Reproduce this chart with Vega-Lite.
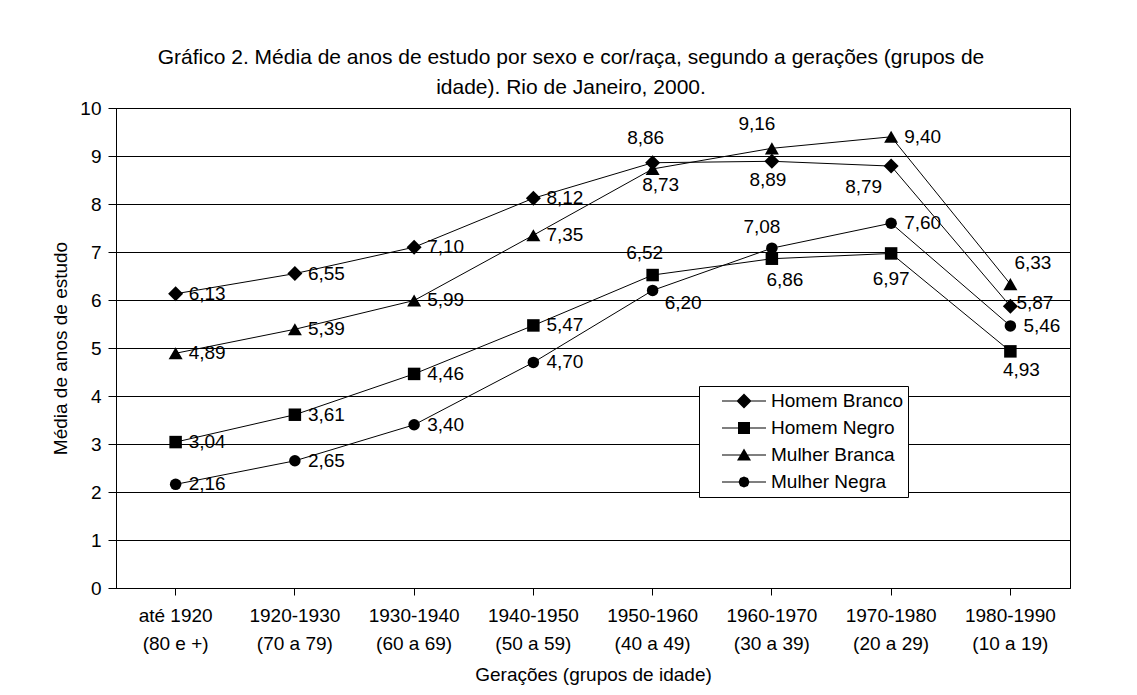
{
  "$schema": "https://vega.github.io/schema/vega-lite/v6.json",
  "width": 954,
  "height": 480,
  "padding": {"left": 51, "top": 47, "right": 5, "bottom": 5},
  "title": {
    "text": ["Gráfico 2. Média de anos de estudo por sexo e cor/raça, segundo a gerações (grupos de", "idade). Rio de Janeiro, 2000."],
    "fontSize": 21,
    "font": "Liberation Sans",
    "fontWeight": "normal",
    "color": "black",
    "lineHeight": 30,
    "offset": 1,
    "frame": "group",
    "dx": -22,
    "anchor": "middle"
  },
  "data": {
    "values": [
      {"serie": "Homem Branco", "geracao": "até 1920 (80 e +)", "valor": 6.13},
      {"serie": "Homem Branco", "geracao": "1920-1930 (70 a 79)", "valor": 6.55},
      {"serie": "Homem Branco", "geracao": "1930-1940 (60 a 69)", "valor": 7.10},
      {"serie": "Homem Branco", "geracao": "1940-1950 (50 a 59)", "valor": 8.12},
      {"serie": "Homem Branco", "geracao": "1950-1960 (40 a 49)", "valor": 8.86},
      {"serie": "Homem Branco", "geracao": "1960-1970 (30 a 39)", "valor": 8.89},
      {"serie": "Homem Branco", "geracao": "1970-1980 (20 a 29)", "valor": 8.79},
      {"serie": "Homem Branco", "geracao": "1980-1990 (10 a 19)", "valor": 5.87},
      {"serie": "Homem Negro", "geracao": "até 1920 (80 e +)", "valor": 3.04},
      {"serie": "Homem Negro", "geracao": "1920-1930 (70 a 79)", "valor": 3.61},
      {"serie": "Homem Negro", "geracao": "1930-1940 (60 a 69)", "valor": 4.46},
      {"serie": "Homem Negro", "geracao": "1940-1950 (50 a 59)", "valor": 5.47},
      {"serie": "Homem Negro", "geracao": "1950-1960 (40 a 49)", "valor": 6.52},
      {"serie": "Homem Negro", "geracao": "1960-1970 (30 a 39)", "valor": 6.86},
      {"serie": "Homem Negro", "geracao": "1970-1980 (20 a 29)", "valor": 6.97},
      {"serie": "Homem Negro", "geracao": "1980-1990 (10 a 19)", "valor": 4.93},
      {"serie": "Mulher Branca", "geracao": "até 1920 (80 e +)", "valor": 4.89},
      {"serie": "Mulher Branca", "geracao": "1920-1930 (70 a 79)", "valor": 5.39},
      {"serie": "Mulher Branca", "geracao": "1930-1940 (60 a 69)", "valor": 5.99},
      {"serie": "Mulher Branca", "geracao": "1940-1950 (50 a 59)", "valor": 7.35},
      {"serie": "Mulher Branca", "geracao": "1950-1960 (40 a 49)", "valor": 8.73},
      {"serie": "Mulher Branca", "geracao": "1960-1970 (30 a 39)", "valor": 9.16},
      {"serie": "Mulher Branca", "geracao": "1970-1980 (20 a 29)", "valor": 9.40},
      {"serie": "Mulher Branca", "geracao": "1980-1990 (10 a 19)", "valor": 6.33},
      {"serie": "Mulher Negra", "geracao": "até 1920 (80 e +)", "valor": 2.16},
      {"serie": "Mulher Negra", "geracao": "1920-1930 (70 a 79)", "valor": 2.65},
      {"serie": "Mulher Negra", "geracao": "1930-1940 (60 a 69)", "valor": 3.40},
      {"serie": "Mulher Negra", "geracao": "1940-1950 (50 a 59)", "valor": 4.70},
      {"serie": "Mulher Negra", "geracao": "1950-1960 (40 a 49)", "valor": 6.20},
      {"serie": "Mulher Negra", "geracao": "1960-1970 (30 a 39)", "valor": 7.08},
      {"serie": "Mulher Negra", "geracao": "1970-1980 (20 a 29)", "valor": 7.60},
      {"serie": "Mulher Negra", "geracao": "1980-1990 (10 a 19)", "valor": 5.46}
    ]
  },
  "encoding": {
    "x": {
      "field": "geracao",
      "type": "ordinal",
      "sort": null,
      "scale": {"type": "band", "paddingInner": 0, "paddingOuter": 0},
      "axis": {
        "title": "Gerações (grupos de idade)",
        "labelAngle": 0,
        "labelExpr": "[slice(datum.value, 0, indexof(datum.value, ' (')), slice(datum.value, indexof(datum.value, ' (') + 1)]",
        "labelLineHeight": 28,
        "labelPadding": 11,
        "tickSize": 7,
        "titlePadding": 12
      }
    },
    "y": {
      "field": "valor",
      "type": "quantitative",
      "scale": {"domain": [0, 10]},
      "axis": {
        "title": "Média de anos de estudo",
        "values": [0, 1, 2, 3, 4, 5, 6, 7, 8, 9, 10],
        "grid": true,
        "tickSize": 8,
        "labelPadding": 7,
        "titlePadding": 9
      }
    }
  },
  "layer": [
    {
      "mark": {"type": "line", "color": "black", "strokeWidth": 1},
      "encoding": {"detail": {"field": "serie", "type": "nominal"}}
    },
    {
      "transform": [{"filter": "datum.serie == 'Homem Branco'"}],
      "mark": {"type": "point", "shape": "diamond", "filled": true, "color": "black", "opacity": 1, "size": 225}
    },
    {
      "transform": [{"filter": "datum.serie == 'Homem Negro'"}],
      "mark": {"type": "point", "shape": "square", "filled": true, "color": "black", "opacity": 1, "size": 156}
    },
    {
      "transform": [{"filter": "datum.serie == 'Mulher Branca'"}],
      "mark": {"type": "point", "shape": "triangle-up", "filled": true, "color": "black", "opacity": 1, "size": 196}
    },
    {
      "transform": [{"filter": "datum.serie == 'Mulher Negra'"}],
      "mark": {"type": "point", "shape": "circle", "filled": true, "color": "black", "opacity": 1, "size": 132}
    },
    {
      "transform": [{"filter": "false"}],
      "mark": {"type": "point", "filled": true, "color": "black", "size": 400},
      "encoding": {
        "shape": {
          "field": "serie",
          "type": "nominal",
          "scale": {
            "domain": ["Homem Branco", "Homem Negro", "Mulher Branca", "Mulher Negra"],
            "range": [
              "M-2.2,-0.05H2.2V0.05H-2.2ZM0,-0.75L0.75,0L0,0.75L-0.75,0Z",
              "M-2.2,-0.05H2.2V0.05H-2.2ZM-0.6,-0.6H0.6V0.6H-0.6Z",
              "M-2.2,-0.05H2.2V0.05H-2.2ZM0,-0.65L0.7,0.55H-0.7Z",
              "M-2.2,-0.05H2.2V0.05H-2.2ZM0.55,0L0.39,0.39L0,0.55L-0.39,0.39L-0.55,0L-0.39,-0.39L0,-0.55L0.39,-0.39Z"
            ]
          },
          "legend": {
            "title": null,
            "orient": "none",
            "legendX": 583,
            "legendY": 278,
            "strokeColor": "black",
            "fillColor": "white",
            "padding": 5,
            "symbolOffset": 30,
            "symbolSize": 400,
            "symbolFillColor": "black",
            "symbolStrokeColor": "transparent",
            "symbolStrokeWidth": 0,
            "symbolOpacity": 1,
            "labelFontSize": 19,
            "labelFont": "Liberation Sans",
            "labelColor": "black",
            "labelOffset": 17,
            "rowPadding": 7,
            "labelExpr": "datum.label + '\u00a0\u00a0\u00a0\u00a0\u00a0\u00a0\u00a0\u00a0'"
          }
        }
      }
    },
    {
      "transform": [{"filter": "indexof(['Homem Branco|1950-1960','Homem Negro|1950-1960','Mulher Negra|1960-1970','Mulher Branca|1960-1970','Mulher Branca|1950-1960','Homem Branco|1960-1970','Homem Branco|1970-1980','Homem Negro|1960-1970','Homem Negro|1970-1980','Mulher Negra|1950-1960','Mulher Branca|1980-1990','Homem Branco|1980-1990','Homem Negro|1980-1990'], datum.serie + '|' + slice(datum.geracao, 0, 9)) < 0"}],
      "mark": {"type": "text", "align": "left", "baseline": "middle", "dx": 13, "fontSize": 19, "font": "Liberation Sans", "color": "black"},
      "encoding": {"text": {"field": "valor", "type": "quantitative", "format": ".2f"}}
    },
    {
      "transform": [{"filter": "datum.serie + '|' + slice(datum.geracao, 0, 9) == 'Homem Branco|1950-1960'"}],
      "mark": {"type": "text", "align": "center", "baseline": "middle", "dx": -7, "dy": -25, "fontSize": 19, "font": "Liberation Sans", "color": "black"},
      "encoding": {"text": {"field": "valor", "type": "quantitative", "format": ".2f"}}
    },
    {
      "transform": [{"filter": "datum.serie + '|' + slice(datum.geracao, 0, 9) == 'Homem Negro|1950-1960'"}],
      "mark": {"type": "text", "align": "center", "baseline": "middle", "dx": -8, "dy": -22, "fontSize": 19, "font": "Liberation Sans", "color": "black"},
      "encoding": {"text": {"field": "valor", "type": "quantitative", "format": ".2f"}}
    },
    {
      "transform": [{"filter": "datum.serie + '|' + slice(datum.geracao, 0, 9) == 'Mulher Negra|1960-1970'"}],
      "mark": {"type": "text", "align": "center", "baseline": "middle", "dx": -10, "dy": -21, "fontSize": 19, "font": "Liberation Sans", "color": "black"},
      "encoding": {"text": {"field": "valor", "type": "quantitative", "format": ".2f"}}
    },
    {
      "transform": [{"filter": "datum.serie + '|' + slice(datum.geracao, 0, 9) == 'Mulher Branca|1960-1970'"}],
      "mark": {"type": "text", "align": "center", "baseline": "middle", "dx": -15, "dy": -24, "fontSize": 19, "font": "Liberation Sans", "color": "black"},
      "encoding": {"text": {"field": "valor", "type": "quantitative", "format": ".2f"}}
    },
    {
      "transform": [{"filter": "datum.serie + '|' + slice(datum.geracao, 0, 9) == 'Mulher Branca|1950-1960'"}],
      "mark": {"type": "text", "align": "center", "baseline": "middle", "dx": 8, "dy": 16, "fontSize": 19, "font": "Liberation Sans", "color": "black"},
      "encoding": {"text": {"field": "valor", "type": "quantitative", "format": ".2f"}}
    },
    {
      "transform": [{"filter": "datum.serie + '|' + slice(datum.geracao, 0, 9) == 'Homem Branco|1960-1970'"}],
      "mark": {"type": "text", "align": "center", "baseline": "middle", "dx": -4, "dy": 19, "fontSize": 19, "font": "Liberation Sans", "color": "black"},
      "encoding": {"text": {"field": "valor", "type": "quantitative", "format": ".2f"}}
    },
    {
      "transform": [{"filter": "datum.serie + '|' + slice(datum.geracao, 0, 9) == 'Homem Branco|1970-1980'"}],
      "mark": {"type": "text", "align": "right", "baseline": "middle", "dx": -9, "dy": 21, "fontSize": 19, "font": "Liberation Sans", "color": "black"},
      "encoding": {"text": {"field": "valor", "type": "quantitative", "format": ".2f"}}
    },
    {
      "transform": [{"filter": "datum.serie + '|' + slice(datum.geracao, 0, 9) == 'Homem Negro|1960-1970'"}],
      "mark": {"type": "text", "align": "center", "baseline": "middle", "dx": 13, "dy": 21, "fontSize": 19, "font": "Liberation Sans", "color": "black"},
      "encoding": {"text": {"field": "valor", "type": "quantitative", "format": ".2f"}}
    },
    {
      "transform": [{"filter": "datum.serie + '|' + slice(datum.geracao, 0, 9) == 'Homem Negro|1970-1980'"}],
      "mark": {"type": "text", "align": "center", "baseline": "middle", "dx": 0, "dy": 26, "fontSize": 19, "font": "Liberation Sans", "color": "black"},
      "encoding": {"text": {"field": "valor", "type": "quantitative", "format": ".2f"}}
    },
    {
      "transform": [{"filter": "datum.serie + '|' + slice(datum.geracao, 0, 9) == 'Mulher Negra|1950-1960'"}],
      "mark": {"type": "text", "align": "left", "baseline": "middle", "dx": 12, "dy": 13, "fontSize": 19, "font": "Liberation Sans", "color": "black"},
      "encoding": {"text": {"field": "valor", "type": "quantitative", "format": ".2f"}}
    },
    {
      "transform": [{"filter": "datum.serie + '|' + slice(datum.geracao, 0, 9) == 'Mulher Branca|1980-1990'"}],
      "mark": {"type": "text", "align": "left", "baseline": "middle", "dx": 4, "dy": -21, "fontSize": 19, "font": "Liberation Sans", "color": "black"},
      "encoding": {"text": {"field": "valor", "type": "quantitative", "format": ".2f"}}
    },
    {
      "transform": [{"filter": "datum.serie + '|' + slice(datum.geracao, 0, 9) == 'Homem Branco|1980-1990'"}],
      "mark": {"type": "text", "align": "left", "baseline": "middle", "dx": 6, "dy": -3, "fontSize": 19, "font": "Liberation Sans", "color": "black"},
      "encoding": {"text": {"field": "valor", "type": "quantitative", "format": ".2f"}}
    },
    {
      "transform": [{"filter": "datum.serie + '|' + slice(datum.geracao, 0, 9) == 'Homem Negro|1980-1990'"}],
      "mark": {"type": "text", "align": "center", "baseline": "middle", "dx": 11, "dy": 19, "fontSize": 19, "font": "Liberation Sans", "color": "black"},
      "encoding": {"text": {"field": "valor", "type": "quantitative", "format": ".2f"}}
    }
  ],
  "config": {
    "locale": {"number": {"decimal": ",", "thousands": ".", "grouping": [3], "currency": ["", ""]}},
    "font": "Liberation Sans",
    "view": {"stroke": "black", "strokeWidth": 1},
    "axis": {
      "labelFont": "Liberation Sans",
      "labelFontSize": 19,
      "labelColor": "black",
      "titleFont": "Liberation Sans",
      "titleFontSize": 19,
      "titleFontWeight": "normal",
      "titleColor": "black",
      "domainColor": "black",
      "tickColor": "black",
      "gridColor": "black",
      "gridOpacity": 1,
      "gridWidth": 1
    }
  }
}
